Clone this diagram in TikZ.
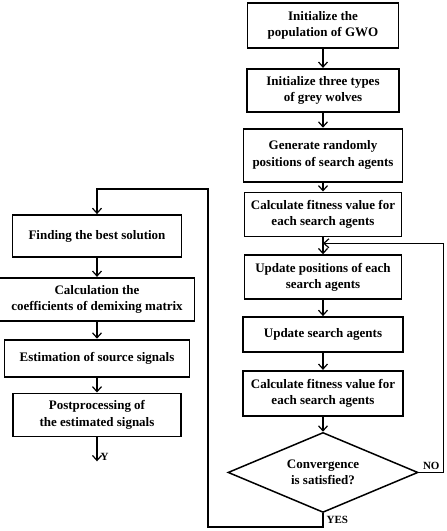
\documentclass[tikz,border=0pt]{standalone}
\usepackage{fontspec}
\setmainfont{Liberation Serif}
\usepackage{tikz}
\usetikzlibrary{arrows.meta, positioning, shapes.geometric}

\begin{document}
\begin{tikzpicture}[x=1pt, y=1pt, font=\fontsize{13}{16.5}\selectfont\bfseries,
  stepbox/.style={draw, line width=1.8pt, inner sep=2pt, align=center},
  flow/.style={-{Straight Barb[length=5pt, width=9pt]}, line width=1.2pt}]
  \useasboundingbox (0,0) rectangle (447,-531);
  % right column
  \node[stepbox, minimum width=151pt, minimum height=45pt] (init) at (323,-25.5)
       {Initialize the\\population of GWO};
  \node[stepbox, below=19pt of init, minimum width=152pt, minimum height=43pt] (wolves)
       {Initialize three types\\of grey wolves};
  \node[stepbox, below=15pt of wolves, minimum width=159pt, minimum height=53pt] (gen)
       {Generate randomly\\positions of search agents};
  \node[stepbox, below=9pt of gen, minimum width=157pt, minimum height=44pt] (fit)
       {Calculate fitness value for\\each search agents};
  \node[stepbox, below=17pt of fit, minimum width=157pt, minimum height=44pt] (updpos)
       {Update positions of each\\search agents};
  \node[stepbox, below=16pt of updpos, minimum width=160pt, minimum height=35pt] (upd)
       {Update search agents};
  \node[stepbox, below=17pt of upd, minimum width=160pt, minimum height=45pt] (fitagain)
       {Calculate fitness value for\\each search agents};
  \node[draw, diamond, line width=1.5pt, aspect=2.4, minimum width=190pt, minimum height=80pt,
        inner sep=1pt, align=center, below=15pt of fitagain] (conv)
       {Convergence\\is satisfied?};
  % left column
  \node[stepbox, minimum width=169pt, minimum height=42pt] (best) at (97,-236)
       {Finding the best solution};
  \node[stepbox, below=19pt of best, minimum width=195pt, minimum height=43pt] (coef)
       {Calculation the\\coefficients of demixing matrix};
  \node[stepbox, below=17pt of coef, minimum width=185pt, minimum height=37pt] (est)
       {Estimation of source signals};
  \node[stepbox, below=15pt of est, minimum width=168pt, minimum height=43pt] (post)
       {Postprocessing of\\the estimated signals};
  \coordinate[below=24pt of post] (out);
  \coordinate[below=6pt of fit] (merge);
  \coordinate (yesturn) at (208,-527);
  % connectors
  \draw[flow] (init) -- (wolves);
  \draw[flow] (wolves) -- (gen);
  \draw[flow] (gen) -- (fit);
  \draw[flow] (fit) -- (updpos);
  \draw[flow] (updpos) -- (upd);
  \draw[flow] (upd) -- (fitagain);
  \draw[flow] (fitagain) -- (conv);
  \draw[flow] (conv.east) -- node[above, inner sep=2pt, font=\fontsize{11}{13}\selectfont\bfseries]{NO}
       ++(25,0) |- (merge);
  \draw[flow] (conv.south) -- node[right, inner sep=3pt, font=\fontsize{11}{13}\selectfont\bfseries]{YES}
       (conv.south |- yesturn) -- (yesturn) -- (yesturn |- 0,-189) -| (best.north);
  \draw[flow] (best) -- (coef);
  \draw[flow] (coef) -- (est);
  \draw[flow] (est) -- (post);
  \draw[flow] (post) -- node[pos=0.8, right, inner sep=3pt, font=\fontsize{11}{13}\selectfont\bfseries]{Y} (out);
\end{tikzpicture}
\end{document}
